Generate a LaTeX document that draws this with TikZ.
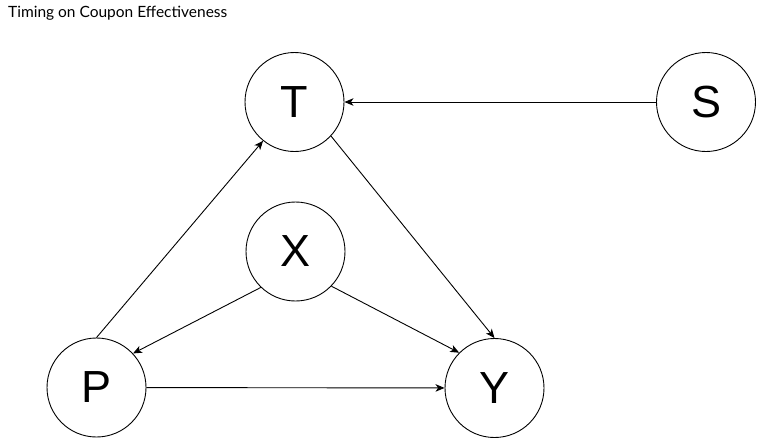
\documentclass[tikz,border=0pt]{standalone}
\usepackage{fontspec}
\setmainfont{Liberation Sans}
\newfontfamily\titlefont{Lato}
\usetikzlibrary{arrows.meta}
\begin{document}
\begin{tikzpicture}[x=1pt,y=1pt,
  var/.style={circle,draw=black,line width=0.9pt,minimum size=99pt,inner sep=0pt,font=\fontsize{45}{50}\selectfont},
  edge/.style={draw=black,line width=0.9pt,-{Stealth[length=9pt,width=7.5pt,inset=2.5pt]}}]
\useasboundingbox (0,0) rectangle (762,-445);
\node[anchor=base west,inner sep=0pt] (title) at (8,-17) {\titlefont\fontsize{15.5}{17}\selectfont Timing on Coupon Effectiveness};
\node[var] (T) at (294.5,-102) {T};
\node[var] (S) at (706,-102) {S};
\node[var] (X) at (295.5,-251.5) {X};
\node[var] (P) at (96.5,-387.5) {P};
\node[var] (Y) at (494.5,-388) {Y};
\draw[edge] (S) -- (T);
\draw[edge] (P.north) -- (T.231);
\draw[edge] (T.-43) -- (Y.north);
\draw[edge] (X.226) -- (P.43);
\draw[edge] (X.-44) -- (Y.135);
\draw[edge] (P) -- (Y);
\end{tikzpicture}
\end{document}
